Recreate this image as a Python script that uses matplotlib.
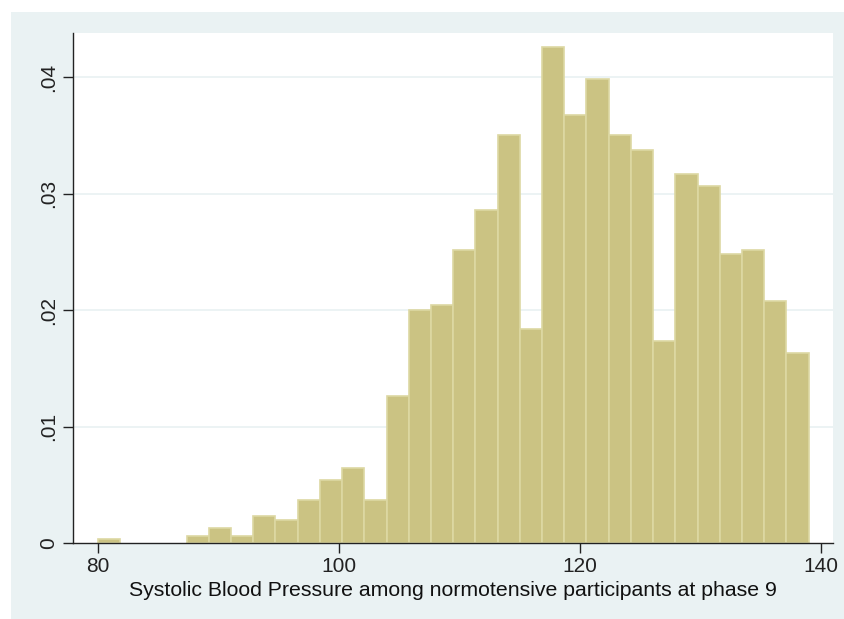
import numpy as np
import matplotlib
matplotlib.use("Agg")
import matplotlib.pyplot as plt
from matplotlib.patches import Rectangle

# histogram of SBP: 32 bins spanning 80..139, heights are densities
bin_start = 80.0
bin_end = 139.0
n_bins = 32
density = [
    0.00031, 0.0, 0.0, 0.0, 0.00058, 0.00132, 0.00058, 0.00233,
    0.00200, 0.00371, 0.00537, 0.00645, 0.00371, 0.01259, 0.02002, 0.02041,
    0.02517, 0.02855, 0.03506, 0.01836, 0.04258, 0.03675, 0.03985, 0.03506,
    0.03371, 0.01731, 0.03165, 0.03064, 0.02480, 0.02517, 0.02075, 0.01630,
]
x_ticks = [80, 100, 120, 140]
y_ticks = [0, 0.01, 0.02, 0.03, 0.04]
y_ticklabels = ["0", ".01", ".02", ".03", ".04"]
x_title = "Systolic Blood Pressure among normotensive participants at phase 9"

BG = "#EAF2F3"
BAR = "#CBC383"
BAR_EDGE = "#DDD8A3"

plt.rcParams["font.family"] = ["Liberation Sans", "DejaVu Sans"]

W, H = 844, 619
fig = plt.figure(figsize=(W / 100, H / 100), dpi=100, facecolor="white")
# stata-style graph region, kept behind the axes
fig.add_artist(Rectangle((11 / W, 0), 1 - 11 / W, 1 - 12 / H,
                         transform=fig.transFigure, facecolor=BG,
                         edgecolor="none", zorder=-10))

ax = fig.add_axes([73 / W, (H - 543) / H, (833 - 73) / W, (543 - 33) / H])
ax.set_facecolor("white")
ax.set_zorder(1)

edges = np.linspace(bin_start, bin_end, n_bins + 1)
width = edges[1] - edges[0]
bars = ax.bar(edges[:-1], density, width=width, align="edge",
              color=BAR, edgecolor=BAR_EDGE, linewidth=1.2, zorder=2)
# empty bins should leave no outline on the baseline
for b, d in zip(bars, density):
    if d == 0:
        b.set_visible(False)

ax.set_xlim(77.95, 141.02)
ax.set_ylim(0, 0.04378)

ax.set_xticks(x_ticks)
ax.set_yticks(y_ticks)
ax.set_yticklabels(y_ticklabels, rotation=90, va="center")
for t in y_ticks[1:]:
    ax.axhline(t, color=BG, linewidth=1.3, zorder=1)

ax.tick_params(axis="both", labelsize=15, colors="#222222", width=1)
ax.tick_params(axis="x", length=7, pad=3)
ax.tick_params(axis="y", length=7, pad=4)

for side in ["top", "right"]:
    ax.spines[side].set_visible(False)
for side in ["left", "bottom"]:
    ax.spines[side].set_color("#222222")
    ax.spines[side].set_linewidth(1)

ax.set_xlabel(x_title, fontsize=15.3, labelpad=4, color="#111111")

fig.savefig("out.png", dpi=100, facecolor="white")
